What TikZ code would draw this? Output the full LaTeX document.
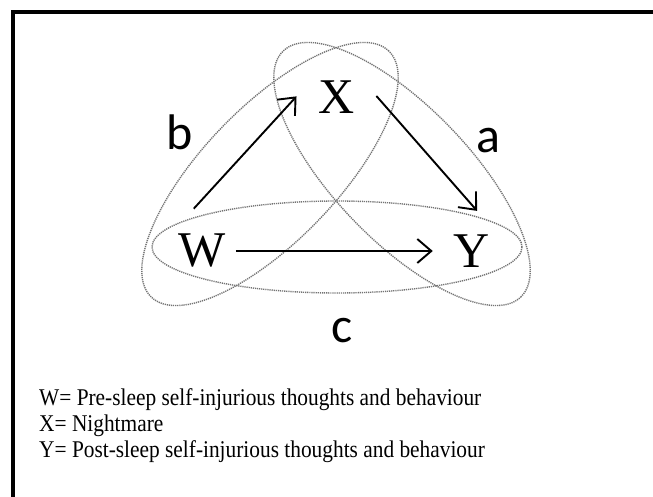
\documentclass[tikz,border=0pt]{standalone}
\usepackage{fontspec}
\setmainfont{Liberation Serif}
\newfontfamily\labelfont{Carlito}
\usetikzlibrary{arrows.meta}

\begin{document}
\begin{tikzpicture}[x=1pt,y=-1pt,
  var/.style={inner sep=4pt, font=\fontsize{50}{50}\selectfont},
  plabel/.style={inner sep=0pt, font=\labelfont\fontsize{50}{50}\selectfont},
  arr/.style={line width=1.9pt, -{Straight Barb[length=14pt,width=24pt,line width=1.9pt]}},
  ring/.style={draw=black!55, line width=1.4pt, dash pattern=on 1.2pt off 0.9pt},
  keytext/.style={anchor=base west, inner sep=0pt, font=\fontsize{24}{24}\selectfont}]
\useasboundingbox (0,0) rectangle (653,497);
% Frame
\draw[line width=4pt] (13,497) -- (13,12) -- (653,12);

% Overlapping pairs
\draw[ring] (270,174) circle[x radius=171pt, y radius=67pt, rotate=46];
\draw[ring] (402,174) circle[x radius=171pt, y radius=67pt, rotate=-46];
\draw[ring] (337,247) circle[x radius=185pt, y radius=46pt];

% Variables
\node[var] (W) at (202,251) {W};
\node[var] (X) at (337,97) {X};
\node[var] (Y) at (472,251) {Y};

% Paths
\draw[arr, shorten <=29pt, shorten >=27pt] (W.north west) -- (X.north west);
\draw[arr, shorten <=26pt, shorten >=26pt] (X.north east) -- (Y.north east);
\draw[arr, shorten <=6pt, shorten >=17pt] (W.east) -- (Y.west);

\node[plabel] (b) at (180,132) {b};
\node[plabel] (a) at (488,141) {a};
\node[plabel] (c) at (342,331) {c};

% Legend
\node[keytext] (kW) at (39,405) {\scalebox{0.89}[1]{W= Pre-sleep self-injurious thoughts and behaviour}};
\node[keytext] (kX) at (39,431) {\scalebox{0.89}[1]{X= Nightmare}};
\node[keytext] (kY) at (39,457) {\scalebox{0.89}[1]{Y= Post-sleep self-injurious thoughts and behaviour}};
\end{tikzpicture}
\end{document}
